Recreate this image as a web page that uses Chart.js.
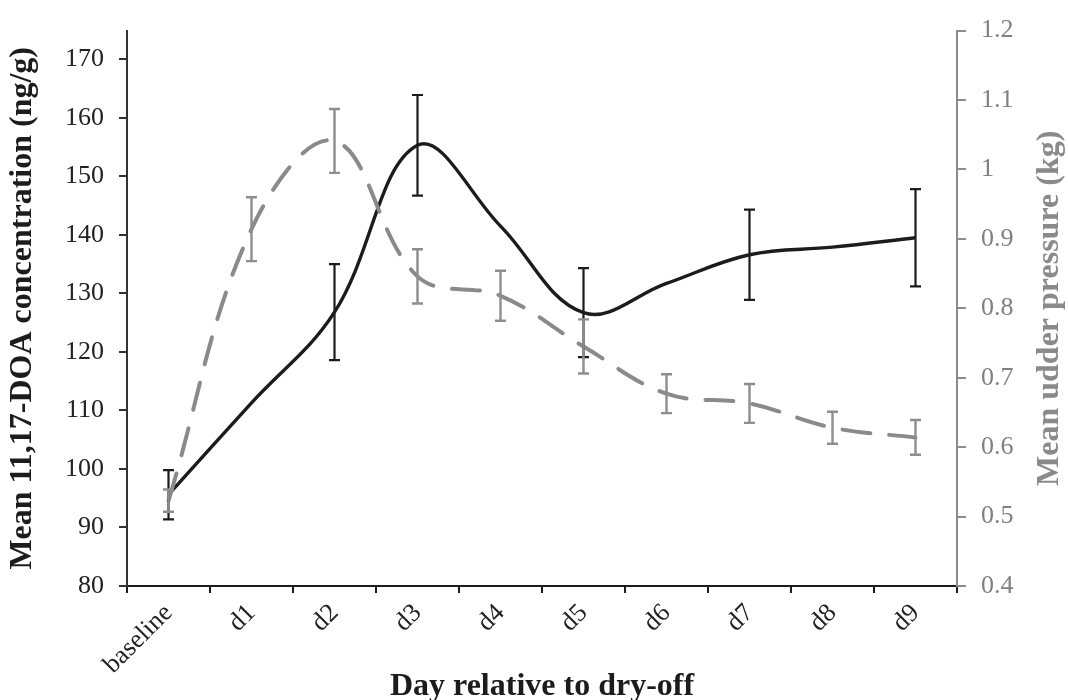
<!DOCTYPE html>
<html><head><meta charset="utf-8">
<script src="https://cdn.jsdelivr.net/npm/chart.js@4/dist/chart.umd.min.js"></script>
<style>html,body{margin:0;padding:0;background:#fff;}#wrap{width:1068px;height:700px;}</style>
</head><body><div id="wrap"><canvas id="c" width="1068" height="700"></canvas></div>
<script>
const categories = ['baseline','d1','d2','d3','d4','d5','d6','d7','d8','d9'];
const doaMean = [95.6, 111.3, 126.8, 155.3, 141.5, 126.7, 131.7, 136.6, 137.9, 139.5];
const doaErr = [4.2, null, 8.2, 8.6, null, 7.6, null, 7.7, null, 8.3];
const pressureMean = [0.523, 0.914, 1.041, 0.846, 0.818, 0.745, 0.677, 0.663, 0.628, 0.614];
const pressureErr = [0.016, 0.046, 0.046, 0.039, 0.036, 0.039, 0.028, 0.028, 0.023, 0.025];
const leftTicks = [80, 90, 100, 110, 120, 130, 140, 150, 160, 170];
const rightTicks = [0.4, 0.5, 0.6, 0.7, 0.8, 0.9, 1.0, 1.1, 1.2];

const SERIF = "'Liberation Serif', 'Times New Roman', serif";
const BLACK = '#1c1c1c';
const GRAY = '#8a8a8a';
const GRAYTXT = '#808080';

const errorBarPlugin = {
  id: 'errorBars',
  afterDatasetsDraw(chart) {
    const ctx = chart.ctx;
    const xs = chart.scales.x;
    const sets = [
      {mean: doaMean, err: doaErr, axis: 'y', color: BLACK, w: 2.2},
      {mean: pressureMean, err: pressureErr, axis: 'y1', color: '#8e8e8e', w: 2.4}
    ];
    sets.forEach(s => {
      const ys = chart.scales[s.axis];
      ctx.save();
      ctx.strokeStyle = s.color;
      ctx.lineWidth = s.w;
      s.mean.forEach((v, j) => {
        const e = s.err[j];
        if (e == null) return;
        const px = xs.getPixelForValue(j);
        const top = ys.getPixelForValue(v + e);
        const bot = ys.getPixelForValue(v - e);
        ctx.beginPath();
        ctx.moveTo(px, top); ctx.lineTo(px, bot);
        ctx.moveTo(px - 5.5, top); ctx.lineTo(px + 5.5, top);
        ctx.moveTo(px - 5.5, bot); ctx.lineTo(px + 5.5, bot);
        ctx.stroke();
      });
      ctx.restore();
    });
  }
};

const rightTitlePlugin = {
  id: 'rightTitle',
  afterDraw(chart) {
    const ctx = chart.ctx;
    const ca = chart.chartArea;
    ctx.save();
    ctx.translate(1050, (ca.top + ca.bottom) / 2);
    ctx.rotate(-Math.PI / 2);
    ctx.font = 'bold 32px ' + SERIF;
    ctx.fillStyle = '#8a8a8a';
    ctx.textAlign = 'center';
    ctx.textBaseline = 'middle';
    ctx.fillText('Mean udder pressure (kg)', 0, 0);
    ctx.restore();
  }
};

new Chart(document.getElementById('c'), {
  type: 'line',
  data: {
    labels: categories,
    datasets: [
      {
        label: 'Mean 11,17-DOA concentration (ng/g)',
        data: doaMean,
        yAxisID: 'y',
        borderColor: BLACK,
        borderWidth: 3.4,
        tension: 0.38,
        pointRadius: 0,
        fill: false,
        order: 2
      },
      {
        label: 'Mean udder pressure (kg)',
        data: pressureMean,
        yAxisID: 'y1',
        borderColor: GRAY,
        borderWidth: 4,
        borderDash: [28, 19],
        borderCapStyle: 'round',
        tension: 0.38,
        pointRadius: 0,
        fill: false,
        order: 1
      }
    ]
  },
  options: {
    responsive: false,
    animation: false,
    devicePixelRatio: 1,
    layout: {padding: {top: 21, left: 0, right: 0, bottom: 0}},
    plugins: {legend: {display: false}, tooltip: {enabled: false}},
    scales: {
      x: {
        type: 'category',
        offset: true,
        grid: {offset: true, drawOnChartArea: false, drawTicks: true, tickLength: 7, color: BLACK, lineWidth: 2},
        border: {display: true, color: BLACK, width: 2},
        ticks: {font: {family: SERIF, size: 26}, color: '#222', minRotation: 45, maxRotation: 45, padding: 5, autoSkip: false},
        title: {display: true, text: 'Day relative to dry-off', color: BLACK, font: {family: SERIF, size: 32, weight: 'bold', lineHeight: 0.8}, padding: 0},
        afterFit(s) { s.height = 114; }
      },
      y: {
        position: 'left',
        min: 80,
        max: 174.9,
        grid: {drawOnChartArea: false, drawTicks: true, tickLength: 8, color: '#333', lineWidth: 2},
        border: {display: true, color: '#333', width: 2},
        ticks: {font: {family: SERIF, size: 26}, color: '#222', padding: 15},
        afterBuildTicks(s) { s.ticks = leftTicks.map(v => ({value: v})); },
        title: {display: true, text: 'Mean 11,17-DOA concentration (ng/g)', color: BLACK, font: {family: SERIF, size: 32, weight: 'bold'}, padding: {top: 4, bottom: 0}},
        afterFit(s) { s.width = 127; }
      },
      y1: {
        position: 'right',
        min: 0.4,
        max: 1.2,
        grid: {drawOnChartArea: false, drawTicks: true, tickLength: 9, color: '#8c8c8c', lineWidth: 2},
        border: {display: true, color: '#8c8c8c', width: 2},
        ticks: {font: {family: SERIF, size: 26}, color: GRAYTXT, padding: 15, callback: v => String(Number(v.toFixed(1)))},
        afterBuildTicks(s) { s.ticks = rightTicks.map(v => ({value: v})); },
        title: {display: false},
        afterFit(s) { s.width = 111; }
      }
    }
  },
  plugins: [errorBarPlugin, rightTitlePlugin]
});
</script>
</body></html>
